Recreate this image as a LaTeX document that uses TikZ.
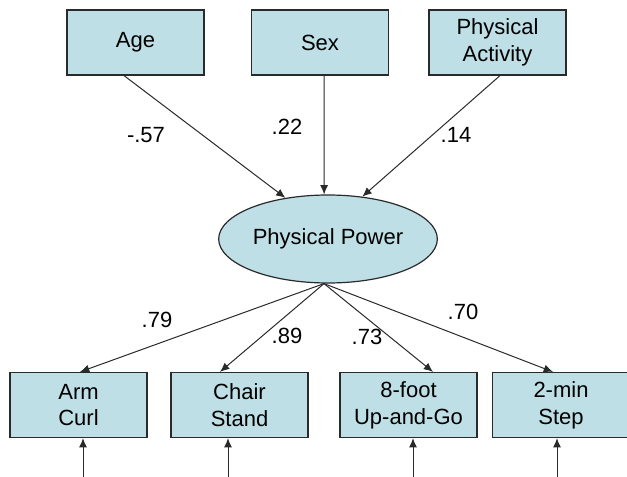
\documentclass[tikz,border=0pt]{standalone}
\usepackage{fontspec}
\setmainfont{Liberation Sans}
\usetikzlibrary{arrows.meta,shapes.geometric,calc}
\definecolor{boxfill}{HTML}{BEDFE5}
\definecolor{edge}{HTML}{2A2A2A}
\tikzset{
  txt/.style={font=\fontsize{16.5}{20}\selectfont},
  obs/.style={txt, draw=edge, line width=0.9pt, fill=boxfill, minimum width=102.75pt, minimum height=48.75pt, align=center, inner sep=0pt},
  lat/.style={txt, draw=edge, line width=0.9pt, fill=boxfill, ellipse, minimum width=164pt, minimum height=66pt, inner sep=0pt},
  conn/.style={draw=edge, line width=0.75pt, -{Latex[length=7pt,width=6pt]}},
  lbl/.style={txt, inner sep=0pt}
}
\begin{document}
\begin{tikzpicture}[x=0.75pt,y=-0.75pt]
\useasboundingbox (0,0) rectangle (627,477);
% top boxes
\node[obs] (age) at (135.5,42.5) {Age};
\node[obs] (sex) at (320,42.5) {Sex};
\node[obs] (pa) at (497.5,42.5) {Physical\\Activity};
% latent
\node[lat] (pp) at (328,239) {Physical Power};
% bottom boxes
\node[obs] (arm) at (78.5,405) {Arm\\Curl};
\node[obs] (chair) at (239.5,405) {Chair\\Stand};
\node[obs] (foot) at (408.5,405) {8-foot\\Up-and-Go};
\node[obs] (step) at (561,405) {2-min\\Step};
% paths in
\draw[conn] ($(age.south)+(-11.5,0)$) -- (pp.136);
\draw[conn] ($(sex.south)+(4,0)$) -- (pp.95);
\draw[conn] ($(pa.south)+(2.5,0)$) -- (pp.51);
% paths out
\coordinate (ppb) at ($(pp.south)+(-4,0)$);
\draw[conn] (ppb) -- ($(arm.north)+(1.5,0)$);
\draw[conn] (ppb) -- ($(chair.north)+(-19.5,0)$);
\draw[conn] (ppb) -- ($(foot.north)+(24.5,0)$);
\draw[conn] (ppb) -- ($(step.north)+(-8,0)$);
% error arrows
\coordinate (e1) at (83,477);
\coordinate (e2) at (228,477);
\coordinate (e3) at (413,477);
\coordinate (e4) at (557,477);
\draw[conn] (e1) -- (e1 |- arm.south);
\draw[conn] (e2) -- (e2 |- chair.south);
\draw[conn] (e3) -- (e3 |- foot.south);
\draw[conn] (e4) -- (e4 |- step.south);
% labels
\node[lbl] (l1) at (146,135) {-.57};
\node[lbl] (l2) at (287,127) {.22};
\node[lbl] (l3) at (456,135) {.14};
\node[lbl] (l4) at (157,320) {.79};
\node[lbl] (l5) at (287,336) {.89};
\node[lbl] (l6) at (367,337) {.73};
\node[lbl] (l7) at (463,312) {.70};
\end{tikzpicture}
\end{document}
